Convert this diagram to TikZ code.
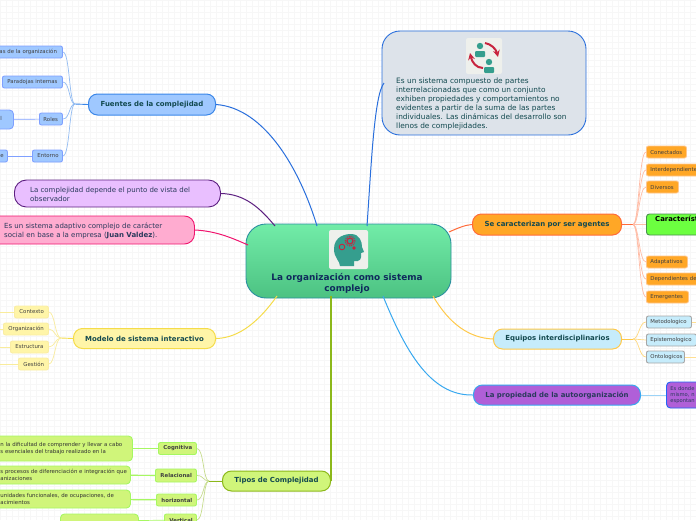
\documentclass[tikz,border=0pt]{standalone}
\usepackage{fontspec}
\setmainfont{DejaVu Sans}
\usepackage{xcolor}
\definecolor{cfuente}{HTML}{9FC8FF}
\definecolor{lfuente}{HTML}{3A86E8}
\definecolor{cmodelo}{HTML}{FFF5A8}
\definecolor{lmodelo}{HTML}{F5DC4A}
\definecolor{ctipos}{HTML}{D0F57A}
\definecolor{ltipos}{HTML}{8CB81A}
\definecolor{cagente}{HTML}{FFA726}
\definecolor{lagente}{HTML}{FF6B3A}
\definecolor{cequipo}{HTML}{C6ECFB}
\definecolor{cauto}{HTML}{B05FD8}
\definecolor{lauto}{HTML}{38A8EF}
\definecolor{ctext}{HTML}{12494F}
\definecolor{corgtop}{HTML}{72ECA8}
\definecolor{corgbot}{HTML}{4CC282}
\definecolor{lorg}{HTML}{2A8F9F}
\definecolor{ctxtorg}{HTML}{0F2A5C}
\definecolor{cdesc}{HTML}{DDE3EA}
\definecolor{ldesc}{HTML}{2A6FDC}
\definecolor{cvista}{HTML}{E9BFFF}
\definecolor{lvista}{HTML}{5C1F80}
\definecolor{cadapt}{HTML}{FFACD0}
\definecolor{ladapt}{HTML}{F0146E}
\definecolor{ccaract}{HTML}{6CFF40}
\definecolor{lcaract}{HTML}{4A8F50}
\definecolor{cicon}{HTML}{EEF0EC}
\definecolor{chead}{HTML}{359E8E}
\definecolor{cgear}{HTML}{C8243F}
\definecolor{lequipo}{HTML}{FFC94A}
\definecolor{cnote}{HTML}{2A3A5C}
\tikzset{
  boxsize/.style 2 args={minimum width=#1pt,minimum height=#2pt},
  boxleft/.style 2 args={text width=#1pt,minimum height=#2pt,align=left},
  main/.style={draw,line width=1pt,rounded corners=9pt,font=\bfseries\fontsize{6.95}{9}\selectfont,text=ctext,inner sep=0pt,anchor=west},
  leaf/.style={draw,line width=0.9pt,rounded corners=2pt,font=\fontsize{5.4}{7}\selectfont,text=black!75,inner sep=0pt,anchor=west},
  note/.style={leaf,rounded corners=4pt},
  plain/.style={anchor=west,align=left,inner sep=0pt,font=\fontsize{7}{9}\selectfont,text=cnote},
  iconbox/.style={fill=cicon,rounded corners=2pt,inner sep=0pt,minimum size=36pt},
}
\begin{document}
\begin{tikzpicture}[x=1pt,y=-1pt]
  \useasboundingbox (0,0) rectangle (696,520);
  \clip (0,0) rectangle (696,520);
  % faint paper grid
  \foreach \gx in {0,6,...,696} \draw[black!3,line width=0.4pt] (\gx,0) -- (\gx,520);
  \foreach \gy in {0,6,...,520} \draw[black!3,line width=0.4pt] (0,\gy) -- (696,\gy);

  % where the branches meet the centre
  \coordinate (orgn1) at (317,226);
  \coordinate (orgn2) at (275,226);
  \coordinate (orgw) at (248,245);
  \coordinate (orgs1) at (277,296);
  \coordinate (orgs2) at (331,296);
  \coordinate (orgn3) at (367,226);
  \coordinate (orge) at (449,232);
  \coordinate (orgs3) at (433,296);
  \coordinate (orgs4) at (383,296);
  \coordinate (descw) at (384,83);

  % centre
  \node[draw=lorg,line width=0.9pt,rounded corners=20pt,top color=corgtop,bottom color=corgbot,boxsize={205}{74},inner sep=0pt] (org) at (348.5,261) {};
  \node[font=\bfseries\fontsize{8.9}{11}\selectfont,text=ctxtorg,align=center,inner sep=0pt] (orgtxt) at (347,283.5) {La organización como sistema\\complejo};
  \node[iconbox,minimum size=39pt] (orgicon) at (348.5,249.5) {};
  \fill[chead] (340,266) .. controls (340,261) and (334,258) .. (334,249) .. controls (334,236) and (346,234) .. (351,234) .. controls (360,234) and (362,242) .. (362,247) -- (364,252) -- (361,253) .. controls (362,259) and (360,262) .. (354,261) -- (354,266) -- cycle;
  \draw[cgear,line width=1.2pt] (350,241) circle (3pt);
  \draw[cgear,dash pattern=on 1pt off 1pt,line width=1pt] (350,241) circle (5pt);
  \draw[cgear,line width=0.9pt] (342,247) circle (2.8pt);
  \fill[cgear] (354,248) circle (1.8pt);

  % first level
  \node[main,fill=cfuente,draw=lfuente,boxsize={127}{21}] (fuentes) at (88,104.5) {Fuentes de la complejidad};
  \node[note,fill=cvista,draw=lvista,rounded corners=12pt,boxsize={206}{27}] (vista) at (14,193.5) {};
  \node[plain] (vistatxt) at (30,194.5) {La complejidad depende el punto de vista del\\observador};
  \node[note,fill=cadapt,draw=ladapt,rounded corners=10pt,boxsize={210}{28}] (adapt) at (-16,230) {};
  \node[plain] (adapttxt) at (4,230.5) {Es un sistema adaptivo complejo de carácter\\social en base a la empresa (\textbf{Juan Valdez}).};
  \node[main,fill=cmodelo,draw=lmodelo,boxsize={142}{20}] (modelo) at (73,338.5) {Modelo de sistema interactivo};
  \node[main,fill=ctipos,draw=ltipos,boxsize={108}{20}] (tipos) at (222,481) {Tipos de Complejidad};
  \node[draw=ldesc,line width=0.9pt,fill=cdesc,rounded corners=18pt,boxsize={204}{104},inner sep=0pt] (desc) at (484,83) {};
  \node[iconbox] (descicon) at (484,56) {};
  \node[anchor=north west,align=left,inner sep=0pt,font=\fontsize{7.4}{9}\selectfont,text=ctext] (desctxt) at (396,78) {Es un sistema compuesto de partes\\interrelacionadas que como un conjunto\\exhiben propiedades y comportamientos no\\evidentes a partir de la suma de las partes\\individuales. Las dinámicas del desarrollo son\\llenos de complejidades.};
  \fill[chead] (480,46) circle (3.2pt);
  \fill[chead,rounded corners=1pt] (475,51) rectangle (485,57);
  \fill[chead] (489,62) circle (3.2pt);
  \fill[chead,rounded corners=1pt] (484,67) rectangle (494,73);
  \draw[cgear,line width=2pt,-stealth] (485,43) .. controls (491,44) and (496,49) .. (498,57);
  \draw[cgear,line width=2pt,-stealth] (483,68) .. controls (476,68) and (472,62) .. (470,53);
  \node[main,fill=cagente,draw=lagente,boxsize={149}{21}] (agentes) at (472,224.5) {Se caracterizan por ser agentes};
  \node[main,fill=cequipo,draw=lequipo,boxsize={128}{20}] (equipos) at (493,339) {Equipos interdisciplinarios};
  \node[main,fill=cauto,draw=lauto,boxsize={167}{20},text=cnote] (autoorg) at (473,395) {La propiedad de la autoorganización};

  % Fuentes
  \node[leaf,fill=cfuente,draw=cfuente!80!blue,boxleft={82}{12}] (tensiones) at (-20,52) {\hspace*{19pt}as de la organización};
  \node[leaf,fill=cfuente,draw=cfuente!80!blue,boxleft={60}{12}] (paradojas) at (2,82) {\hspace*{5pt}Paradojas internas};
  \node[leaf,fill=cfuente,draw=cfuente!80!blue,boxleft={23}{12}] (roles) at (39,119) {\hspace*{4pt}Roles};
  \node[leaf,fill=cfuente,draw=cfuente!80!blue,boxleft={30}{12}] (entorno) at (32,156) {\hspace*{5pt}Entorno};
  \node[note,fill=cfuente,draw=cfuente!80!blue,boxleft={33}{19}] (rolesnota) at (-20,119.5) {\hspace*{20pt}\raisebox{3pt}{l}};
  \node[leaf,fill=cfuente,draw=cfuente!80!blue,boxleft={27}{12}] (entornonota) at (-20,156) {\hspace*{20pt}e};
  \coordinate (fj) at (75,104);
  \draw[lfuente,line width=0.9pt] (fuentes.west) -- (fj);
  \foreach \kid in {tensiones,paradojas,roles,entorno}
    \draw[lfuente!55,line width=0.7pt] (fj) .. controls (69,104) and ([xshift=7pt]\kid.east) .. (\kid.east);
  \draw[cfuente!80!blue,line width=0.7pt] (rolesnota) -- (roles);
  \draw[cfuente!80!blue,line width=0.7pt] (entornonota) -- (entorno);

  % Modelo
  \node[leaf,fill=cmodelo,draw=lmodelo!50,boxleft={34}{12}] (contexto) at (14,312) {\hspace*{5pt}Contexto};
  \node[leaf,fill=cmodelo,draw=lmodelo!50,boxleft={45}{12}] (organiz) at (3,329) {\hspace*{5pt}Organización};
  \node[leaf,fill=cmodelo,draw=lmodelo!50,boxleft={38}{12}] (estruct) at (10,347) {\hspace*{5pt}Estructura};
  \node[leaf,fill=cmodelo,draw=lmodelo!50,boxleft={30}{12}] (gestion) at (18,364) {\hspace*{5pt}Gestión};
  \coordinate (mj) at (61,338);
  \draw[lmodelo,line width=0.9pt] (modelo.west) -- (mj);
  \foreach \kid in {contexto,organiz,estruct,gestion} {
    \draw[lmodelo!55,line width=0.7pt] (mj) .. controls (55,338) and ([xshift=6pt]\kid.east) .. (\kid.east);
    \draw[lmodelo!55,line width=0.7pt] (\kid.west) -- (\kid.west -| 0,0);
  }

  % Tipos
  \node[leaf,fill=ctipos,draw=ctipos!80!green,boxleft={38}{12},font=\bfseries\fontsize{5.4}{7}\selectfont] (cogn) at (158,448.5) {\hspace*{5pt}Cognitiva};
  \node[leaf,fill=ctipos,draw=ctipos!80!green,boxleft={41}{13},font=\bfseries\fontsize{5.4}{7}\selectfont] (rela) at (155,475.5) {\hspace*{5pt}Relacional};
  \node[leaf,fill=ctipos,draw=ctipos!80!green,boxleft={40}{12},font=\bfseries\fontsize{5.4}{7}\selectfont] (hori) at (156,500) {\hspace*{5pt}horizontal};
  \node[leaf,fill=ctipos,draw=ctipos!80!green,boxleft={32}{12},font=\bfseries\fontsize{5.4}{7}\selectfont] (vert) at (164,520) {\hspace*{5pt}Vertical};
  \node[note,fill=ctipos,draw=ctipos!80!green,boxleft={152}{25},text=black!80] (cognota) at (-20,448.5) {\hspace*{20pt}n la dificultad de comprender y llevar a cabo\\\hspace*{20pt}s esenciales del trabajo realizado en la};
  \node[note,fill=ctipos,draw=ctipos!80!green,boxleft={150}{18},text=black!80] (relanota) at (-20,475) {\hspace*{20pt}s procesos de diferenciación e integración que\\\hspace*{20pt}anizaciones};
  \node[note,fill=ctipos,draw=ctipos!80!green,boxleft={150}{18},text=black!80] (horinota) at (-20,499) {\hspace*{20pt}unidades funcionales, de ocupaciones, de\\\hspace*{20pt}acimientos};
  \node[note,fill=ctipos,draw=ctipos!80!green,boxsize={78}{14},text=black!80] (vertnota) at (60,521) {};
  \coordinate (tj) at (209,481);
  \draw[ltipos,line width=0.9pt] (tipos.west) -- (tj);
  \foreach \kid in {cogn,rela,hori,vert}
    \draw[ltipos!50,line width=0.7pt] (tj) .. controls (203,481) and ([xshift=7pt]\kid.east) .. (\kid.east);
  \draw[ctipos!80!green,line width=0.7pt] (cogn) -- (cognota);
  \draw[ctipos!80!green,line width=1.2pt] (rela) -- (relanota);
  \draw[ctipos!80!green,line width=1.2pt] (hori) -- (horinota);
  \draw[ctipos!80!green,line width=0.7pt] (vert) -- (vertnota);

  % Agentes
  \node[leaf,fill=cagente,draw=orange!45,boxleft={40}{12}] (conect) at (646,152) {\hspace*{4pt}Conectados};
  \node[leaf,fill=cagente,draw=orange!45,boxleft={60}{12}] (interd) at (646,170) {\hspace*{4pt}Interdependientes};
  \node[leaf,fill=cagente,draw=orange!45,boxleft={32}{12}] (divers) at (646,187) {\hspace*{4pt}Diversos};
  \node[leaf,fill=ccaract,draw=lcaract,rounded corners=3pt,boxsize={80}{21}] (caract) at (646,224.5) {};
  \node[anchor=north west,inner sep=0pt,text=black,font=\bfseries\fontsize{6.9}{9}\selectfont] (caracttxt) at (655,216) {Características};
  \node[leaf,fill=cagente,draw=orange!45,boxleft={41}{12}] (adapta) at (646,262) {\hspace*{4pt}Adaptativos};
  \node[leaf,fill=cagente,draw=orange!45,boxleft={70}{12}] (depend) at (646,279) {\hspace*{4pt}Dependientes de};
  \node[leaf,fill=cagente,draw=orange!45,boxleft={42}{12}] (emerg) at (646,297) {\hspace*{4pt}Emergentes};
  \coordinate (aj) at (633,224.5);
  \draw[lagente,line width=0.9pt] (agentes.east) -- (aj);
  \foreach \kid in {conect,interd,divers,adapta,depend,emerg}
    \draw[lagente!45,line width=0.7pt] (aj) .. controls (639,224.5) and ([xshift=-7pt]\kid.west) .. (\kid.west);
  \draw[lagente!45,line width=0.7pt] (aj) -- (caract.west);

  % Equipos
  \node[leaf,fill=cequipo,draw=gray!70,boxleft={45}{12}] (metodo) at (646,322) {\hspace*{4pt}Metodologico};
  \node[leaf,fill=cequipo,draw=gray!70,boxleft={50}{12}] (episte) at (646,340) {\hspace*{4pt}Epistemologico};
  \node[leaf,fill=cequipo,draw=gray!70,boxleft={38}{12}] (onto) at (646,357) {\hspace*{4pt}Ontologicos};
  \coordinate (ej) at (633,339);
  \draw[lequipo,line width=0.9pt] (equipos.east) -- (ej);
  \foreach \kid in {metodo,episte,onto}
    \draw[lequipo!70,line width=0.7pt] (ej) .. controls (639,339) and ([xshift=-7pt]\kid.west) .. (\kid.west);
  \foreach \kid in {metodo,onto}
    \draw[lequipo!60,line width=0.9pt] (\kid.east) -- (\kid.east -| 696,0);

  % Autoorganizacion
  \node[note,fill=cauto,draw=lauto!60!blue,boxleft={60}{26},text=cnote,font=\fontsize{5.2}{6.3}\selectfont] (donde) at (666,395) {\hspace*{4pt}Es donde\\\hspace*{4pt}mismo, n\\\hspace*{4pt}espontan};
  \draw[lauto!50,line width=0.9pt] (autoorg) -- (donde);

  % branches
  \draw[ldesc,line width=1pt] (fuentes.east) .. controls (265,108) and (300,170) .. (orgn1);
  \draw[lvista,line width=1pt] (vista.east) .. controls (245,194) and (260,208) .. (orgn2);
  \draw[ladapt,line width=1pt] (adapt.east) .. controls (215,231) and (230,237) .. (orgw);
  \draw[lmodelo,line width=1pt] (modelo.east) .. controls (240,338) and (260,320) .. (orgs1);
  \draw[ltipos,line width=1.1pt] (tipos.east) .. controls (331,478) and (331,470) .. (orgs2);
  \draw[ldesc,line width=1pt] (descw) .. controls (374,95) and (371,170) .. (orgn3);
  \draw[lagente,line width=1pt] (agentes.west) .. controls (465,225) and (458,228) .. (orge);
  \draw[lequipo,line width=1pt] (equipos.west) .. controls (470,338) and (450,325) .. (orgs3);
  \draw[lauto,line width=1pt] (autoorg.west) .. controls (430,396) and (405,350) .. (orgs4);
\end{tikzpicture}
\end{document}
